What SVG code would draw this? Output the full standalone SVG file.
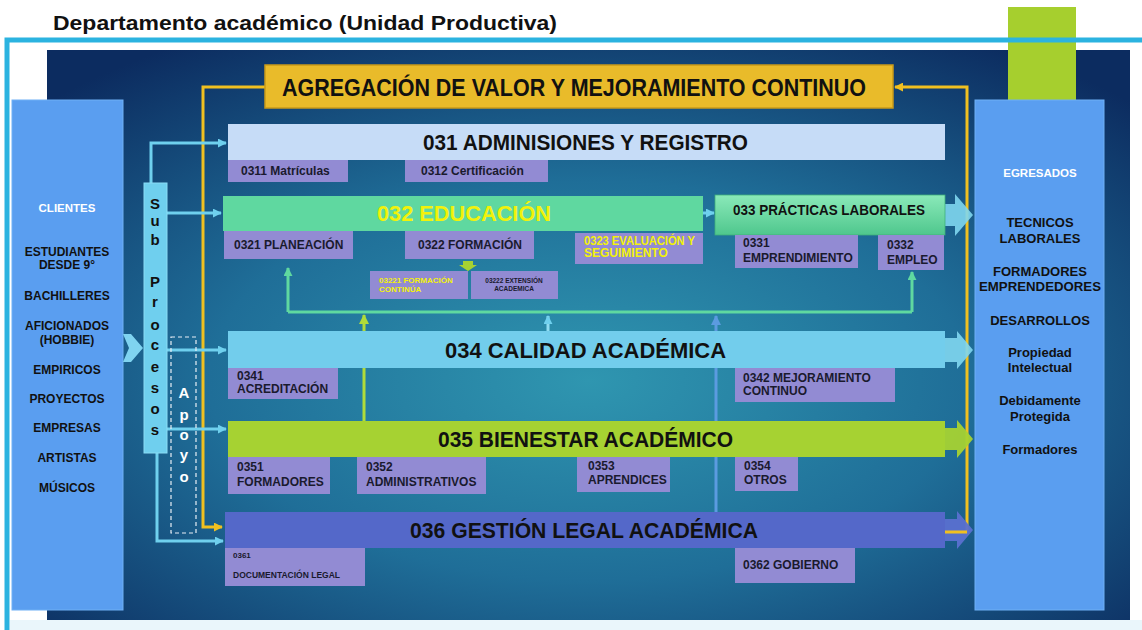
<svg xmlns="http://www.w3.org/2000/svg" width="1142" height="630" viewBox="0 0 1142 630">
<defs>
<radialGradient id="bg" cx="0.5" cy="0.58" r="0.7">
<stop offset="0" stop-color="#2f96b0"/>
<stop offset="0.5" stop-color="#1f6e98"/>
<stop offset="1" stop-color="#0c2c60"/>
</radialGradient>
<linearGradient id="g033" x1="0" y1="0" x2="0" y2="1">
<stop offset="0" stop-color="#8ae9b9"/>
<stop offset="1" stop-color="#4fc78d"/>
</linearGradient>
<marker id="aCyan" viewBox="0 0 10 10" refX="9" refY="5" markerWidth="3" markerHeight="3" orient="auto"><path d="M0,0 L10,5 L0,10 z" fill="#6fd0ee"/></marker>
<marker id="aYel" viewBox="0 0 10 10" refX="9" refY="5" markerWidth="3" markerHeight="3" orient="auto"><path d="M0,0 L10,5 L0,10 z" fill="#f0c020"/></marker>
<marker id="aMint" viewBox="0 0 10 10" refX="9" refY="5" markerWidth="3" markerHeight="3" orient="auto"><path d="M0,0 L10,5 L0,10 z" fill="#5fd8a0"/></marker>
<marker id="aLime" viewBox="0 0 10 10" refX="9" refY="5" markerWidth="3.5" markerHeight="3.5" orient="auto"><path d="M0,0 L10,5 L0,10 z" fill="#b0dc3a"/></marker>
<marker id="aBlue" viewBox="0 0 10 10" refX="9" refY="5" markerWidth="3.5" markerHeight="3.5" orient="auto"><path d="M0,0 L10,5 L0,10 z" fill="#5b9be0"/></marker>
</defs>
<style>
text{font-family:"Liberation Sans",Arial,sans-serif;font-weight:bold;}
.title{font-size:21px;fill:#111;}
.big{font-size:22px;fill:#111;}
.sub{fill:#928bd3;}
.st{font-size:12px;fill:#1a1a2e;}
.side{font-size:12px;fill:#111;text-anchor:middle;}
.eg{font-size:13px;fill:#111;text-anchor:middle;}
.sideh{font-size:11.5px;fill:#fff;text-anchor:middle;}
.vl{font-size:15px;fill:#111;text-anchor:middle;}
.ap{font-size:15px;fill:#fff;text-anchor:middle;}
.ln{fill:none;stroke-width:3;}
</style>

<rect x="0" y="0" width="1142" height="630" fill="#ffffff"/>
<rect x="10" y="620" width="1132" height="10" fill="#eaf6fb"/>
<rect x="47" y="50" width="1083" height="570" fill="url(#bg)"/>
<rect x="1008" y="7" width="68" height="93" fill="#a6cf2e"/>
<path d="M7,630 L7,40 L1142,40" fill="none" stroke="#2bb3e0" stroke-width="5"/>
<text x="53" y="30" class="title" textLength="504" lengthAdjust="spacingAndGlyphs">Departamento académico (Unidad Productiva)</text>

<g id="clientes">
<rect x="12" y="100" width="111" height="510" fill="#5a9ef0" stroke="#6fb0f5" stroke-width="1"/>
<text x="67" y="212" class="sideh">CLIENTES</text>
<text x="67" y="256" class="side">ESTUDIANTES</text>
<text x="67" y="269" class="side">DESDE 9°</text>
<text x="67" y="300" class="side">BACHILLERES</text>
<text x="67" y="330" class="side">AFICIONADOS</text>
<text x="67" y="344" class="side">(HOBBIE)</text>
<text x="67" y="374" class="side">EMPIRICOS</text>
<text x="67" y="403" class="side">PROYECTOS</text>
<text x="67" y="432" class="side">EMPRESAS</text>
<text x="67" y="462" class="side">ARTISTAS</text>
<text x="67" y="492" class="side">MÚSICOS</text>
</g>

<g id="egresados">
<rect x="975" y="100" width="129" height="510" fill="#5a9ef0" stroke="#6fb0f5" stroke-width="1"/>
<text x="1040" y="177" class="sideh" font-size="12">EGRESADOS</text>
<text x="1040" y="227" class="eg">TECNICOS</text>
<text x="1040" y="243" class="eg">LABORALES</text>
<text x="1040" y="276" class="eg">FORMADORES</text>
<text x="1040" y="291" class="eg" textLength="122" lengthAdjust="spacingAndGlyphs">EMPRENDEDORES</text>
<text x="1040" y="325" class="eg">DESARROLLOS</text>
<text x="1040" y="357" class="eg">Propiedad</text>
<text x="1040" y="372" class="eg">Intelectual</text>
<text x="1040" y="405" class="eg">Debidamente</text>
<text x="1040" y="421" class="eg">Protegida</text>
<text x="1040" y="454" class="eg">Formadores</text>
</g>

<g id="connectors">
<polygon points="123,334 131,334 143,348 131,362 123,362 129,348" fill="#7fd3f0"/>
<path class="ln" d="M265,87 L203,87 L203,527 L222,527" stroke="#f0c020" marker-end="url(#aYel)"/>
<path class="ln" d="M945,532 L967,532 L967,87 L895,87" stroke="#f0c020" marker-end="url(#aYel)"/>
<path class="ln" d="M151,183 L151,143 L226,143" stroke="#6fd0ee" marker-end="url(#aCyan)"/>
<path class="ln" d="M167,213 L221,213" stroke="#6fd0ee" marker-end="url(#aCyan)"/>
<path class="ln" d="M167,350 L226,350" stroke="#6fd0ee" marker-end="url(#aCyan)"/>
<path class="ln" d="M167,429 L226,429" stroke="#6fd0ee" marker-end="url(#aCyan)"/>
<path class="ln" d="M157,453 L157,541 L223,541" stroke="#6fd0ee" marker-end="url(#aCyan)"/>
<path class="ln" d="M703,213 L714,213" stroke="#6fd0ee" stroke-width="2" marker-end="url(#aCyan)"/>
<path class="ln" d="M288,312 L912,312" stroke="#5fd8a0"/>
<path class="ln" d="M288,312 L288,268" stroke="#5fd8a0" marker-end="url(#aMint)"/>
<path class="ln" d="M912,312 L912,272" stroke="#5fd8a0" marker-end="url(#aMint)"/>
<path class="ln" d="M364,421 L364,315" stroke="#b0dc3a" stroke-width="2.5" marker-end="url(#aLime)"/>
<path class="ln" d="M548,331 L548,316" stroke="#8fdcf2" stroke-width="2.5" marker-end="url(#aCyan)"/>
<path class="ln" d="M716,512 L716,316" stroke="#5b9be0" stroke-width="2.5" marker-end="url(#aBlue)"/>
<polygon points="463,261 473,261 473,265 477,265 468,271 459,265 463,265" fill="#a6d232"/>
</g>

<g id="subprocesos">
<rect x="144" y="183" width="23" height="270" fill="#6fcfee" stroke="#8adcf5" stroke-width="1"/>
<text x="155" y="209" class="vl">S</text>
<text x="155" y="226" class="vl">u</text>
<text x="155" y="245" class="vl">b</text>
<text x="155" y="287" class="vl">P</text>
<text x="155" y="307" class="vl">r</text>
<text x="155" y="330" class="vl">o</text>
<text x="155" y="350" class="vl">c</text>
<text x="155" y="372" class="vl">e</text>
<text x="155" y="393" class="vl">s</text>
<text x="155" y="414" class="vl">o</text>
<text x="155" y="435" class="vl">s</text>
</g>

<g id="apoyo">
<rect x="171" y="337" width="25" height="196" fill="none" stroke="#e8eef5" stroke-width="1.2" stroke-dasharray="4,3"/>
<text x="184" y="398" class="ap">A</text>
<text x="184" y="420" class="ap">p</text>
<text x="184" y="440" class="ap">o</text>
<text x="184" y="460" class="ap">y</text>
<text x="184" y="482" class="ap">o</text>
</g>

<g id="agregacion">
<rect x="265" y="65" width="628" height="43" fill="#e9bb2a" stroke="#c99a18" stroke-width="1.5"/>
<text x="282" y="96" font-size="23" fill="#111" textLength="584" lengthAdjust="spacingAndGlyphs">AGREGACIÓN DE VALOR Y MEJORAMIENTO CONTINUO</text>
</g>

<g id="n031">
<rect x="228" y="124" width="717" height="36" fill="#c6dcf7"/>
<text x="423" y="150" class="big" textLength="325" lengthAdjust="spacingAndGlyphs">031 ADMINISIONES Y REGISTRO</text>
<rect x="228" y="160" width="120" height="22" class="sub"/>
<text x="241" y="175" class="st">0311 Matrículas</text>
<rect x="405" y="160" width="143" height="22" class="sub"/>
<text x="421" y="175" class="st">0312 Certificación</text>
</g>

<g id="n032">
<rect x="223" y="196" width="480" height="35" fill="#5fd8a0"/>
<text x="377" y="221" class="big" style="fill:#f2f20a" textLength="174" lengthAdjust="spacingAndGlyphs">032 EDUCACIÓN</text>
<rect x="224" y="231" width="129" height="28" class="sub"/>
<text x="234" y="249" class="st">0321 PLANEACIÓN</text>
<rect x="405" y="231" width="129" height="28" class="sub"/>
<text x="418" y="249" class="st">0322 FORMACIÓN</text>
<rect x="575" y="233" width="128" height="31" class="sub"/>
<text x="584" y="245" class="st" font-size="11" style="fill:#f2f20a" textLength="111" lengthAdjust="spacingAndGlyphs">0323 EVALUACIÓN Y</text>
<text x="584" y="257" class="st" font-size="11" style="fill:#f2f20a">SEGUIMIENTO</text>
<rect x="370" y="271" width="98" height="28" class="sub"/>
<text x="379" y="283" font-size="8" style="fill:#f2f20a">03221 FORMACIÓN</text>
<text x="379" y="292" font-size="8" style="fill:#f2f20a">CONTINÚA</text>
<rect x="471" y="271" width="87" height="28" class="sub"/>
<text x="514" y="283" font-size="6.5" fill="#1a1a2e" text-anchor="middle">03222 EXTENSIÓN</text>
<text x="514" y="291" font-size="6.5" fill="#1a1a2e" text-anchor="middle">ACADEMICA</text>
</g>

<g id="n033">
<polygon points="944,204 955,204 955,194 973,215 955,236 955,226 944,226" fill="#7fd6ee" opacity="0.9"/>
<rect x="715" y="195" width="230" height="40" fill="url(#g033)" stroke="#3fb07a" stroke-width="0.8"/>
<text x="733" y="215" font-size="14" fill="#111" textLength="192" lengthAdjust="spacingAndGlyphs">033 PRÁCTICAS LABORALES</text>
<rect x="735" y="235" width="123" height="33" class="sub"/>
<text x="743" y="247" class="st">0331</text>
<text x="743" y="262" class="st">EMPRENDIMIENTO</text>
<rect x="878" y="235" width="66" height="35" class="sub"/>
<text x="887" y="249" class="st">0332</text>
<text x="887" y="264" class="st">EMPLEO</text>
</g>

<g id="n034">
<polygon points="945,338 957,338 957,331 973,350 957,369 957,362 945,362" fill="#7fd6f0" opacity="0.9"/>
<rect x="228" y="331" width="717" height="37" fill="#72cdec"/>
<text x="445" y="358" class="big" textLength="281" lengthAdjust="spacingAndGlyphs">034 CALIDAD ACADÉMICA</text>
<rect x="228" y="368" width="110" height="31" class="sub"/>
<text x="237" y="380" class="st">0341</text>
<text x="237" y="393" class="st">ACREDITACIÓN</text>
<rect x="735" y="368" width="160" height="34" class="sub"/>
<text x="743" y="382" class="st">0342 MEJORAMIENTO</text>
<text x="743" y="395" class="st">CONTINUO</text>
</g>

<g id="n035">
<polygon points="945,428 957,428 957,420 973,439 957,458 957,450 945,450" fill="#a6d232" opacity="0.95"/>
<rect x="228" y="421" width="717" height="36" fill="#a6d232"/>
<text x="438" y="447" class="big" textLength="295" lengthAdjust="spacingAndGlyphs">035 BIENESTAR ACADÉMICO</text>
<rect x="228" y="457" width="102" height="37" class="sub"/>
<text x="237" y="471" class="st">0351</text>
<text x="237" y="486" class="st">FORMADORES</text>
<rect x="357" y="457" width="129" height="37" class="sub"/>
<text x="366" y="471" class="st">0352</text>
<text x="366" y="486" class="st">ADMINISTRATIVOS</text>
<rect x="577" y="457" width="93" height="35" class="sub"/>
<text x="588" y="470" class="st">0353</text>
<text x="588" y="484" class="st">APRENDICES</text>
<rect x="735" y="457" width="63" height="34" class="sub"/>
<text x="744" y="470" class="st">0354</text>
<text x="744" y="484" class="st">OTROS</text>
</g>

<g id="n036">
<polygon points="945,519 957,519 957,511 973,530 957,549 957,541 945,541" fill="#5a70d0" opacity="0.95"/>
<rect x="225" y="512" width="720" height="36" fill="#5468c9"/>
<text x="410" y="538" class="big" textLength="348" lengthAdjust="spacingAndGlyphs">036 GESTIÓN LEGAL ACADÉMICA</text>
<rect x="225" y="548" width="140" height="38" class="sub"/>
<text x="233" y="558" font-size="8" fill="#1a1a2e">0361</text>
<text x="233" y="578" font-size="8.5" fill="#1a1a2e">DOCUMENTACIÓN LEGAL</text>
<rect x="735" y="548" width="120" height="35" class="sub"/>
<text x="743" y="569" class="st">0362 GOBIERNO</text>
</g>
<path d="M945,532 L967,532" fill="none" stroke="#f0c020" stroke-width="3"/>
</svg>
